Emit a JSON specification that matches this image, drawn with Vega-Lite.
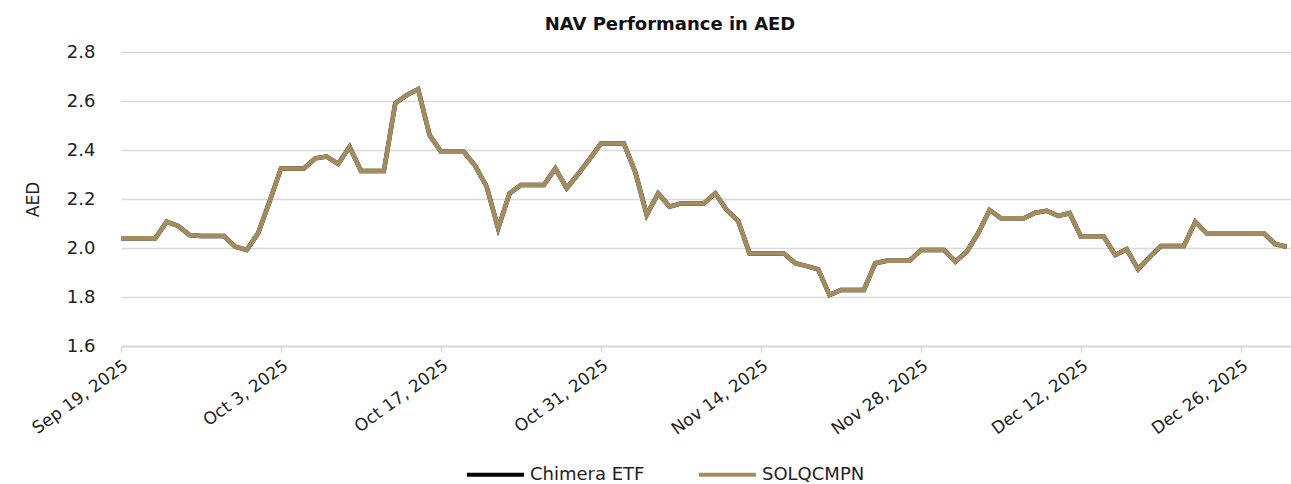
{
  "$schema": "https://vega.github.io/schema/vega-lite/v6.json",
  "autosize": "none",
  "width": 1170,
  "height": 294,
  "padding": {"left": 121, "top": 52, "right": 0, "bottom": 138},
  "background": "white",
  "title": {
    "text": "NAV Performance in AED",
    "font": "DejaVu Sans",
    "fontSize": 18,
    "fontWeight": "bold",
    "color": "#111111",
    "anchor": "middle",
    "dx": -36,
    "offset": 9
  },
  "data": {
    "values": [
      {"date": "2025-09-19", "Chimera ETF": 2.040, "SOLQCMPN": 2.040},
      {"date": "2025-09-20", "Chimera ETF": 2.040, "SOLQCMPN": 2.040},
      {"date": "2025-09-21", "Chimera ETF": 2.040, "SOLQCMPN": 2.040},
      {"date": "2025-09-22", "Chimera ETF": 2.040, "SOLQCMPN": 2.040},
      {"date": "2025-09-23", "Chimera ETF": 2.107, "SOLQCMPN": 2.107},
      {"date": "2025-09-24", "Chimera ETF": 2.090, "SOLQCMPN": 2.090},
      {"date": "2025-09-25", "Chimera ETF": 2.053, "SOLQCMPN": 2.053},
      {"date": "2025-09-26", "Chimera ETF": 2.049, "SOLQCMPN": 2.049},
      {"date": "2025-09-27", "Chimera ETF": 2.049, "SOLQCMPN": 2.049},
      {"date": "2025-09-28", "Chimera ETF": 2.049, "SOLQCMPN": 2.049},
      {"date": "2025-09-29", "Chimera ETF": 2.005, "SOLQCMPN": 2.005},
      {"date": "2025-09-30", "Chimera ETF": 1.992, "SOLQCMPN": 1.992},
      {"date": "2025-10-01", "Chimera ETF": 2.060, "SOLQCMPN": 2.060},
      {"date": "2025-10-02", "Chimera ETF": 2.190, "SOLQCMPN": 2.190},
      {"date": "2025-10-03", "Chimera ETF": 2.325, "SOLQCMPN": 2.325},
      {"date": "2025-10-04", "Chimera ETF": 2.325, "SOLQCMPN": 2.325},
      {"date": "2025-10-05", "Chimera ETF": 2.325, "SOLQCMPN": 2.325},
      {"date": "2025-10-06", "Chimera ETF": 2.366, "SOLQCMPN": 2.366},
      {"date": "2025-10-07", "Chimera ETF": 2.373, "SOLQCMPN": 2.373},
      {"date": "2025-10-08", "Chimera ETF": 2.343, "SOLQCMPN": 2.343},
      {"date": "2025-10-09", "Chimera ETF": 2.413, "SOLQCMPN": 2.413},
      {"date": "2025-10-10", "Chimera ETF": 2.314, "SOLQCMPN": 2.314},
      {"date": "2025-10-11", "Chimera ETF": 2.314, "SOLQCMPN": 2.314},
      {"date": "2025-10-12", "Chimera ETF": 2.314, "SOLQCMPN": 2.314},
      {"date": "2025-10-13", "Chimera ETF": 2.591, "SOLQCMPN": 2.591},
      {"date": "2025-10-14", "Chimera ETF": 2.624, "SOLQCMPN": 2.624},
      {"date": "2025-10-15", "Chimera ETF": 2.648, "SOLQCMPN": 2.648},
      {"date": "2025-10-16", "Chimera ETF": 2.461, "SOLQCMPN": 2.461},
      {"date": "2025-10-17", "Chimera ETF": 2.393, "SOLQCMPN": 2.393},
      {"date": "2025-10-18", "Chimera ETF": 2.393, "SOLQCMPN": 2.393},
      {"date": "2025-10-19", "Chimera ETF": 2.393, "SOLQCMPN": 2.393},
      {"date": "2025-10-20", "Chimera ETF": 2.335, "SOLQCMPN": 2.335},
      {"date": "2025-10-21", "Chimera ETF": 2.250, "SOLQCMPN": 2.250},
      {"date": "2025-10-22", "Chimera ETF": 2.080, "SOLQCMPN": 2.080},
      {"date": "2025-10-23", "Chimera ETF": 2.223, "SOLQCMPN": 2.223},
      {"date": "2025-10-24", "Chimera ETF": 2.257, "SOLQCMPN": 2.257},
      {"date": "2025-10-25", "Chimera ETF": 2.257, "SOLQCMPN": 2.257},
      {"date": "2025-10-26", "Chimera ETF": 2.257, "SOLQCMPN": 2.257},
      {"date": "2025-10-27", "Chimera ETF": 2.325, "SOLQCMPN": 2.325},
      {"date": "2025-10-28", "Chimera ETF": 2.244, "SOLQCMPN": 2.244},
      {"date": "2025-10-29", "Chimera ETF": 2.302, "SOLQCMPN": 2.302},
      {"date": "2025-10-30", "Chimera ETF": 2.363, "SOLQCMPN": 2.363},
      {"date": "2025-10-31", "Chimera ETF": 2.427, "SOLQCMPN": 2.427},
      {"date": "2025-11-01", "Chimera ETF": 2.427, "SOLQCMPN": 2.427},
      {"date": "2025-11-02", "Chimera ETF": 2.427, "SOLQCMPN": 2.427},
      {"date": "2025-11-03", "Chimera ETF": 2.310, "SOLQCMPN": 2.310},
      {"date": "2025-11-04", "Chimera ETF": 2.135, "SOLQCMPN": 2.135},
      {"date": "2025-11-05", "Chimera ETF": 2.223, "SOLQCMPN": 2.223},
      {"date": "2025-11-06", "Chimera ETF": 2.169, "SOLQCMPN": 2.169},
      {"date": "2025-11-07", "Chimera ETF": 2.182, "SOLQCMPN": 2.182},
      {"date": "2025-11-08", "Chimera ETF": 2.182, "SOLQCMPN": 2.182},
      {"date": "2025-11-09", "Chimera ETF": 2.182, "SOLQCMPN": 2.182},
      {"date": "2025-11-10", "Chimera ETF": 2.223, "SOLQCMPN": 2.223},
      {"date": "2025-11-11", "Chimera ETF": 2.155, "SOLQCMPN": 2.155},
      {"date": "2025-11-12", "Chimera ETF": 2.111, "SOLQCMPN": 2.111},
      {"date": "2025-11-13", "Chimera ETF": 1.978, "SOLQCMPN": 1.978},
      {"date": "2025-11-14", "Chimera ETF": 1.978, "SOLQCMPN": 1.978},
      {"date": "2025-11-15", "Chimera ETF": 1.978, "SOLQCMPN": 1.978},
      {"date": "2025-11-16", "Chimera ETF": 1.978, "SOLQCMPN": 1.978},
      {"date": "2025-11-17", "Chimera ETF": 1.938, "SOLQCMPN": 1.938},
      {"date": "2025-11-18", "Chimera ETF": 1.926, "SOLQCMPN": 1.926},
      {"date": "2025-11-19", "Chimera ETF": 1.913, "SOLQCMPN": 1.913},
      {"date": "2025-11-20", "Chimera ETF": 1.808, "SOLQCMPN": 1.808},
      {"date": "2025-11-21", "Chimera ETF": 1.829, "SOLQCMPN": 1.829},
      {"date": "2025-11-22", "Chimera ETF": 1.829, "SOLQCMPN": 1.829},
      {"date": "2025-11-23", "Chimera ETF": 1.829, "SOLQCMPN": 1.829},
      {"date": "2025-11-24", "Chimera ETF": 1.938, "SOLQCMPN": 1.938},
      {"date": "2025-11-25", "Chimera ETF": 1.948, "SOLQCMPN": 1.948},
      {"date": "2025-11-26", "Chimera ETF": 1.948, "SOLQCMPN": 1.948},
      {"date": "2025-11-27", "Chimera ETF": 1.948, "SOLQCMPN": 1.948},
      {"date": "2025-11-28", "Chimera ETF": 1.992, "SOLQCMPN": 1.992},
      {"date": "2025-11-29", "Chimera ETF": 1.992, "SOLQCMPN": 1.992},
      {"date": "2025-11-30", "Chimera ETF": 1.992, "SOLQCMPN": 1.992},
      {"date": "2025-12-01", "Chimera ETF": 1.944, "SOLQCMPN": 1.944},
      {"date": "2025-12-02", "Chimera ETF": 1.985, "SOLQCMPN": 1.985},
      {"date": "2025-12-03", "Chimera ETF": 2.060, "SOLQCMPN": 2.060},
      {"date": "2025-12-04", "Chimera ETF": 2.155, "SOLQCMPN": 2.155},
      {"date": "2025-12-05", "Chimera ETF": 2.121, "SOLQCMPN": 2.121},
      {"date": "2025-12-06", "Chimera ETF": 2.121, "SOLQCMPN": 2.121},
      {"date": "2025-12-07", "Chimera ETF": 2.121, "SOLQCMPN": 2.121},
      {"date": "2025-12-08", "Chimera ETF": 2.144, "SOLQCMPN": 2.144},
      {"date": "2025-12-09", "Chimera ETF": 2.152, "SOLQCMPN": 2.152},
      {"date": "2025-12-10", "Chimera ETF": 2.131, "SOLQCMPN": 2.131},
      {"date": "2025-12-11", "Chimera ETF": 2.142, "SOLQCMPN": 2.142},
      {"date": "2025-12-12", "Chimera ETF": 2.046, "SOLQCMPN": 2.046},
      {"date": "2025-12-13", "Chimera ETF": 2.046, "SOLQCMPN": 2.046},
      {"date": "2025-12-14", "Chimera ETF": 2.046, "SOLQCMPN": 2.046},
      {"date": "2025-12-15", "Chimera ETF": 1.971, "SOLQCMPN": 1.971},
      {"date": "2025-12-16", "Chimera ETF": 1.995, "SOLQCMPN": 1.995},
      {"date": "2025-12-17", "Chimera ETF": 1.913, "SOLQCMPN": 1.913},
      {"date": "2025-12-18", "Chimera ETF": 1.963, "SOLQCMPN": 1.963},
      {"date": "2025-12-19", "Chimera ETF": 2.008, "SOLQCMPN": 2.008},
      {"date": "2025-12-20", "Chimera ETF": 2.008, "SOLQCMPN": 2.008},
      {"date": "2025-12-21", "Chimera ETF": 2.008, "SOLQCMPN": 2.008},
      {"date": "2025-12-22", "Chimera ETF": 2.107, "SOLQCMPN": 2.107},
      {"date": "2025-12-23", "Chimera ETF": 2.060, "SOLQCMPN": 2.060},
      {"date": "2025-12-24", "Chimera ETF": 2.060, "SOLQCMPN": 2.060},
      {"date": "2025-12-25", "Chimera ETF": 2.060, "SOLQCMPN": 2.060},
      {"date": "2025-12-26", "Chimera ETF": 2.060, "SOLQCMPN": 2.060},
      {"date": "2025-12-27", "Chimera ETF": 2.060, "SOLQCMPN": 2.060},
      {"date": "2025-12-28", "Chimera ETF": 2.060, "SOLQCMPN": 2.060},
      {"date": "2025-12-29", "Chimera ETF": 2.016, "SOLQCMPN": 2.016},
      {"date": "2025-12-30", "Chimera ETF": 2.005, "SOLQCMPN": 2.005}
    ]
  },
  "transform": [
    {"fold": ["Chimera ETF", "SOLQCMPN"], "as": ["series", "nav"]}
  ],
  "mark": {"type": "line", "strokeWidth": 4.5, "strokeJoin": "miter", "clip": true},
  "encoding": {
    "x": {
      "field": "date",
      "type": "temporal",
      "scale": {
        "type": "utc",
        "domain": [
          {"year": 2025, "month": 9, "date": 19, "utc": true},
          {"year": 2025, "month": 12, "date": 30, "hours": 9, "utc": true}
        ]
      },
      "axis": {
        "title": null,
        "values": [
          {"year": 2025, "month": 9, "date": 19, "utc": true},
          {"year": 2025, "month": 10, "date": 3, "utc": true},
          {"year": 2025, "month": 10, "date": 17, "utc": true},
          {"year": 2025, "month": 10, "date": 31, "utc": true},
          {"year": 2025, "month": 11, "date": 14, "utc": true},
          {"year": 2025, "month": 11, "date": 28, "utc": true},
          {"year": 2025, "month": 12, "date": 12, "utc": true},
          {"year": 2025, "month": 12, "date": 26, "utc": true}
        ],
        "labelExpr": "utcFormat(datum.value, '%b %-d, %Y')",
        "labelAngle": -36,
        "labelFont": "DejaVu Sans",
        "labelFontSize": 17,
        "labelColor": "#222222",
        "labelPadding": 5,
        "labelOverlap": false,
        "labelFlush": false,
        "grid": false,
        "domain": true,
        "domainColor": "#d9d9d9",
        "domainWidth": 2,
        "ticks": true,
        "tickColor": "#d9d9d9",
        "tickWidth": 1.5,
        "tickSize": 6
      }
    },
    "y": {
      "field": "nav",
      "type": "quantitative",
      "scale": {"domain": [1.6, 2.8], "nice": false, "zero": false},
      "axis": {
        "title": "AED",
        "titleFont": "DejaVu Sans",
        "titleFontSize": 17,
        "titleFontWeight": "normal",
        "titleColor": "#222222",
        "titlePadding": 24,
        "values": [1.6, 1.8, 2.0, 2.2, 2.4, 2.6, 2.8],
        "format": ".1f",
        "labelFont": "DejaVu Sans",
        "labelFontSize": 18,
        "labelColor": "#222222",
        "labelPadding": 26,
        "domain": false,
        "ticks": false,
        "grid": true,
        "gridColor": "#d9d9d9",
        "gridWidth": 1.5
      }
    },
    "color": {
      "field": "series",
      "type": "nominal",
      "scale": {"domain": ["Chimera ETF", "SOLQCMPN"], "range": ["#000000", "#A38C5F"]},
      "legend": {
        "title": null,
        "orient": "none",
        "direction": "horizontal",
        "legendX": 344,
        "legendY": 392,
        "padding": 0,
        "symbolType": "stroke",
        "symbolSize": 3249,
        "symbolStrokeWidth": 4,
        "labelFont": "DejaVu Sans",
        "labelFontSize": 18,
        "labelColor": "#222222",
        "labelOffset": 4,
        "columnPadding": 46
      }
    }
  },
  "config": {"view": {"stroke": null}}
}
